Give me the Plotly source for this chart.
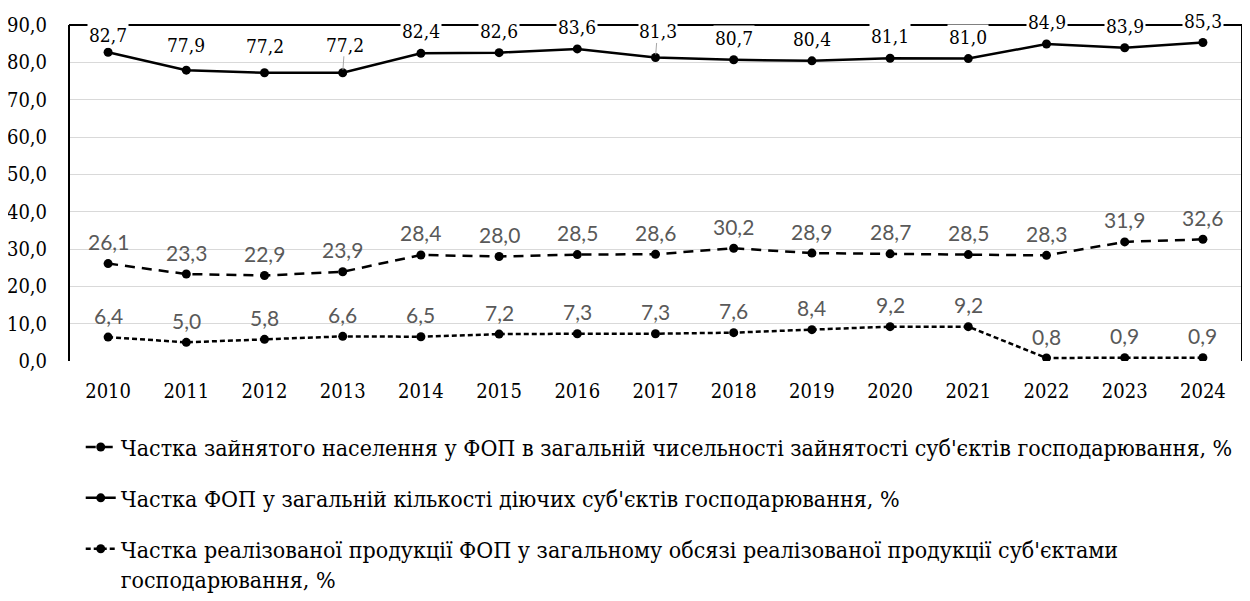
import plotly.graph_objects as go

years = ["2010", "2011", "2012", "2013", "2014", "2015", "2016", "2017",
         "2018", "2019", "2020", "2021", "2022", "2023", "2024"]
employment_share = [26.1, 23.3, 22.9, 23.9, 28.4, 28.0, 28.5, 28.6, 30.2, 28.9, 28.7, 28.5, 28.3, 31.9, 32.6]
fop_count_share = [82.7, 77.9, 77.2, 77.2, 82.4, 82.6, 83.6, 81.3, 80.7, 80.4, 81.1, 81.0, 84.9, 83.9, 85.3]
sales_share = [6.4, 5.0, 5.8, 6.6, 6.5, 7.2, 7.3, 7.3, 7.6, 8.4, 9.2, 9.2, 0.8, 0.9, 0.9]

name_emp = "Частка зайнятого населення у ФОП в загальній чисельності зайнятості суб'єктів господарювання, %"
name_cnt = "Частка ФОП у загальній кількості діючих суб'єктів господарювання, %"
name_sales = ("Частка реалізованої продукції ФОП у загальному обсязі реалізованої продукції суб'єктами<br>"
              "господарювання, %")

SERIF = "DejaVu Serif Condensed"
SANS = "Lato"

# per-label vertical offsets (px) for the top series labels
top_label_shift = {0: 17, 1: 25, 2: 27}
leader_shift = {3: -28, 7: -26}

def fmt(v):
    return f"{v:.1f}".replace(".", ",")

fig = go.Figure()
fig.add_trace(go.Scatter(x=years, y=employment_share, name=name_emp, mode="lines+markers",
                         line=dict(color="black", width=2.5, dash="10px,7px"),
                         marker=dict(size=9, color="black"), legendgroup="a"))
fig.add_trace(go.Scatter(x=years, y=fop_count_share, name=name_cnt, mode="lines+markers",
                         line=dict(color="black", width=2.5),
                         marker=dict(size=9, color="black"), legendgroup="b"))
fig.add_trace(go.Scatter(x=years, y=sales_share, name=name_sales, mode="lines+markers",
                         line=dict(color="black", width=2.5, dash="5px,3px"),
                         marker=dict(size=9, color="black"), legendgroup="c"))

annotations = []
for i, v in enumerate(fop_count_share):
    if i in leader_shift:
        annotations.append(dict(x=i, y=v, xref="x", yref="y", text=fmt(v),
                                showarrow=True, arrowhead=0, arrowwidth=1, arrowcolor="#a6a6a6",
                                ax=2, ay=leader_shift[i], standoff=3,
                                font=dict(family=SERIF, size=19, color="black"),
                                bgcolor="white", borderpad=0))
    else:
        annotations.append(dict(x=i, y=v, xref="x", yref="y", text=fmt(v), showarrow=False,
                                yshift=top_label_shift.get(i, 22),
                                font=dict(family=SERIF, size=19, color="black"),
                                bgcolor="white", borderpad=1))
for series in (employment_share, sales_share):
    for i, v in enumerate(series):
        annotations.append(dict(x=i, y=v, xref="x", yref="y", text=fmt(v), showarrow=False,
                                yshift=22, font=dict(family=SANS, size=21, color="#595959")))

fig.update_layout(
    width=1242, height=593,
    margin=dict(l=61, r=8, t=17, b=240, autoexpand=False),
    paper_bgcolor="white", plot_bgcolor="white",
    separators=", ",
    showlegend=True,
    font=dict(family=SERIF, size=19, color="black"),
    legend=dict(x=0.01, y=-0.192, xanchor="left", yanchor="top", orientation="v",
                traceorder="grouped", tracegroupgap=18, valign="top",
                font=dict(family=SERIF, size=23, color="black"),
                bgcolor="rgba(0,0,0,0)"),
    xaxis=dict(type="category", range=[-0.5, 14.5], showgrid=False, showline=False,
               automargin=False,
               ticks="outside", ticklen=12, tickcolor="rgba(0,0,0,0)",
               tickfont=dict(family=SERIF, size=20, color="black")),
    yaxis=dict(range=[0, 90], dtick=10, tickformat=".1f", showgrid=True,
               automargin=False,
               gridcolor="#d9d9d9", gridwidth=1, zeroline=False, showline=False,
               ticks="outside", ticklen=17, tickcolor="rgba(0,0,0,0)",
               tickfont=dict(family=SERIF, size=20, color="black")),
    shapes=[dict(type="line", xref="paper", yref="paper", x0=0, x1=0, y0=0, y1=1,
                 line=dict(color="black", width=2)),
            dict(type="line", xref="paper", yref="paper", x0=0, x1=1, y0=1, y1=1,
                 line=dict(color="black", width=2)),
            dict(type="line", xref="paper", yref="paper", x0=1, x1=1, y0=0, y1=1,
                 line=dict(color="black", width=2))],
    annotations=annotations,
)

fig.write_html("out.html")
